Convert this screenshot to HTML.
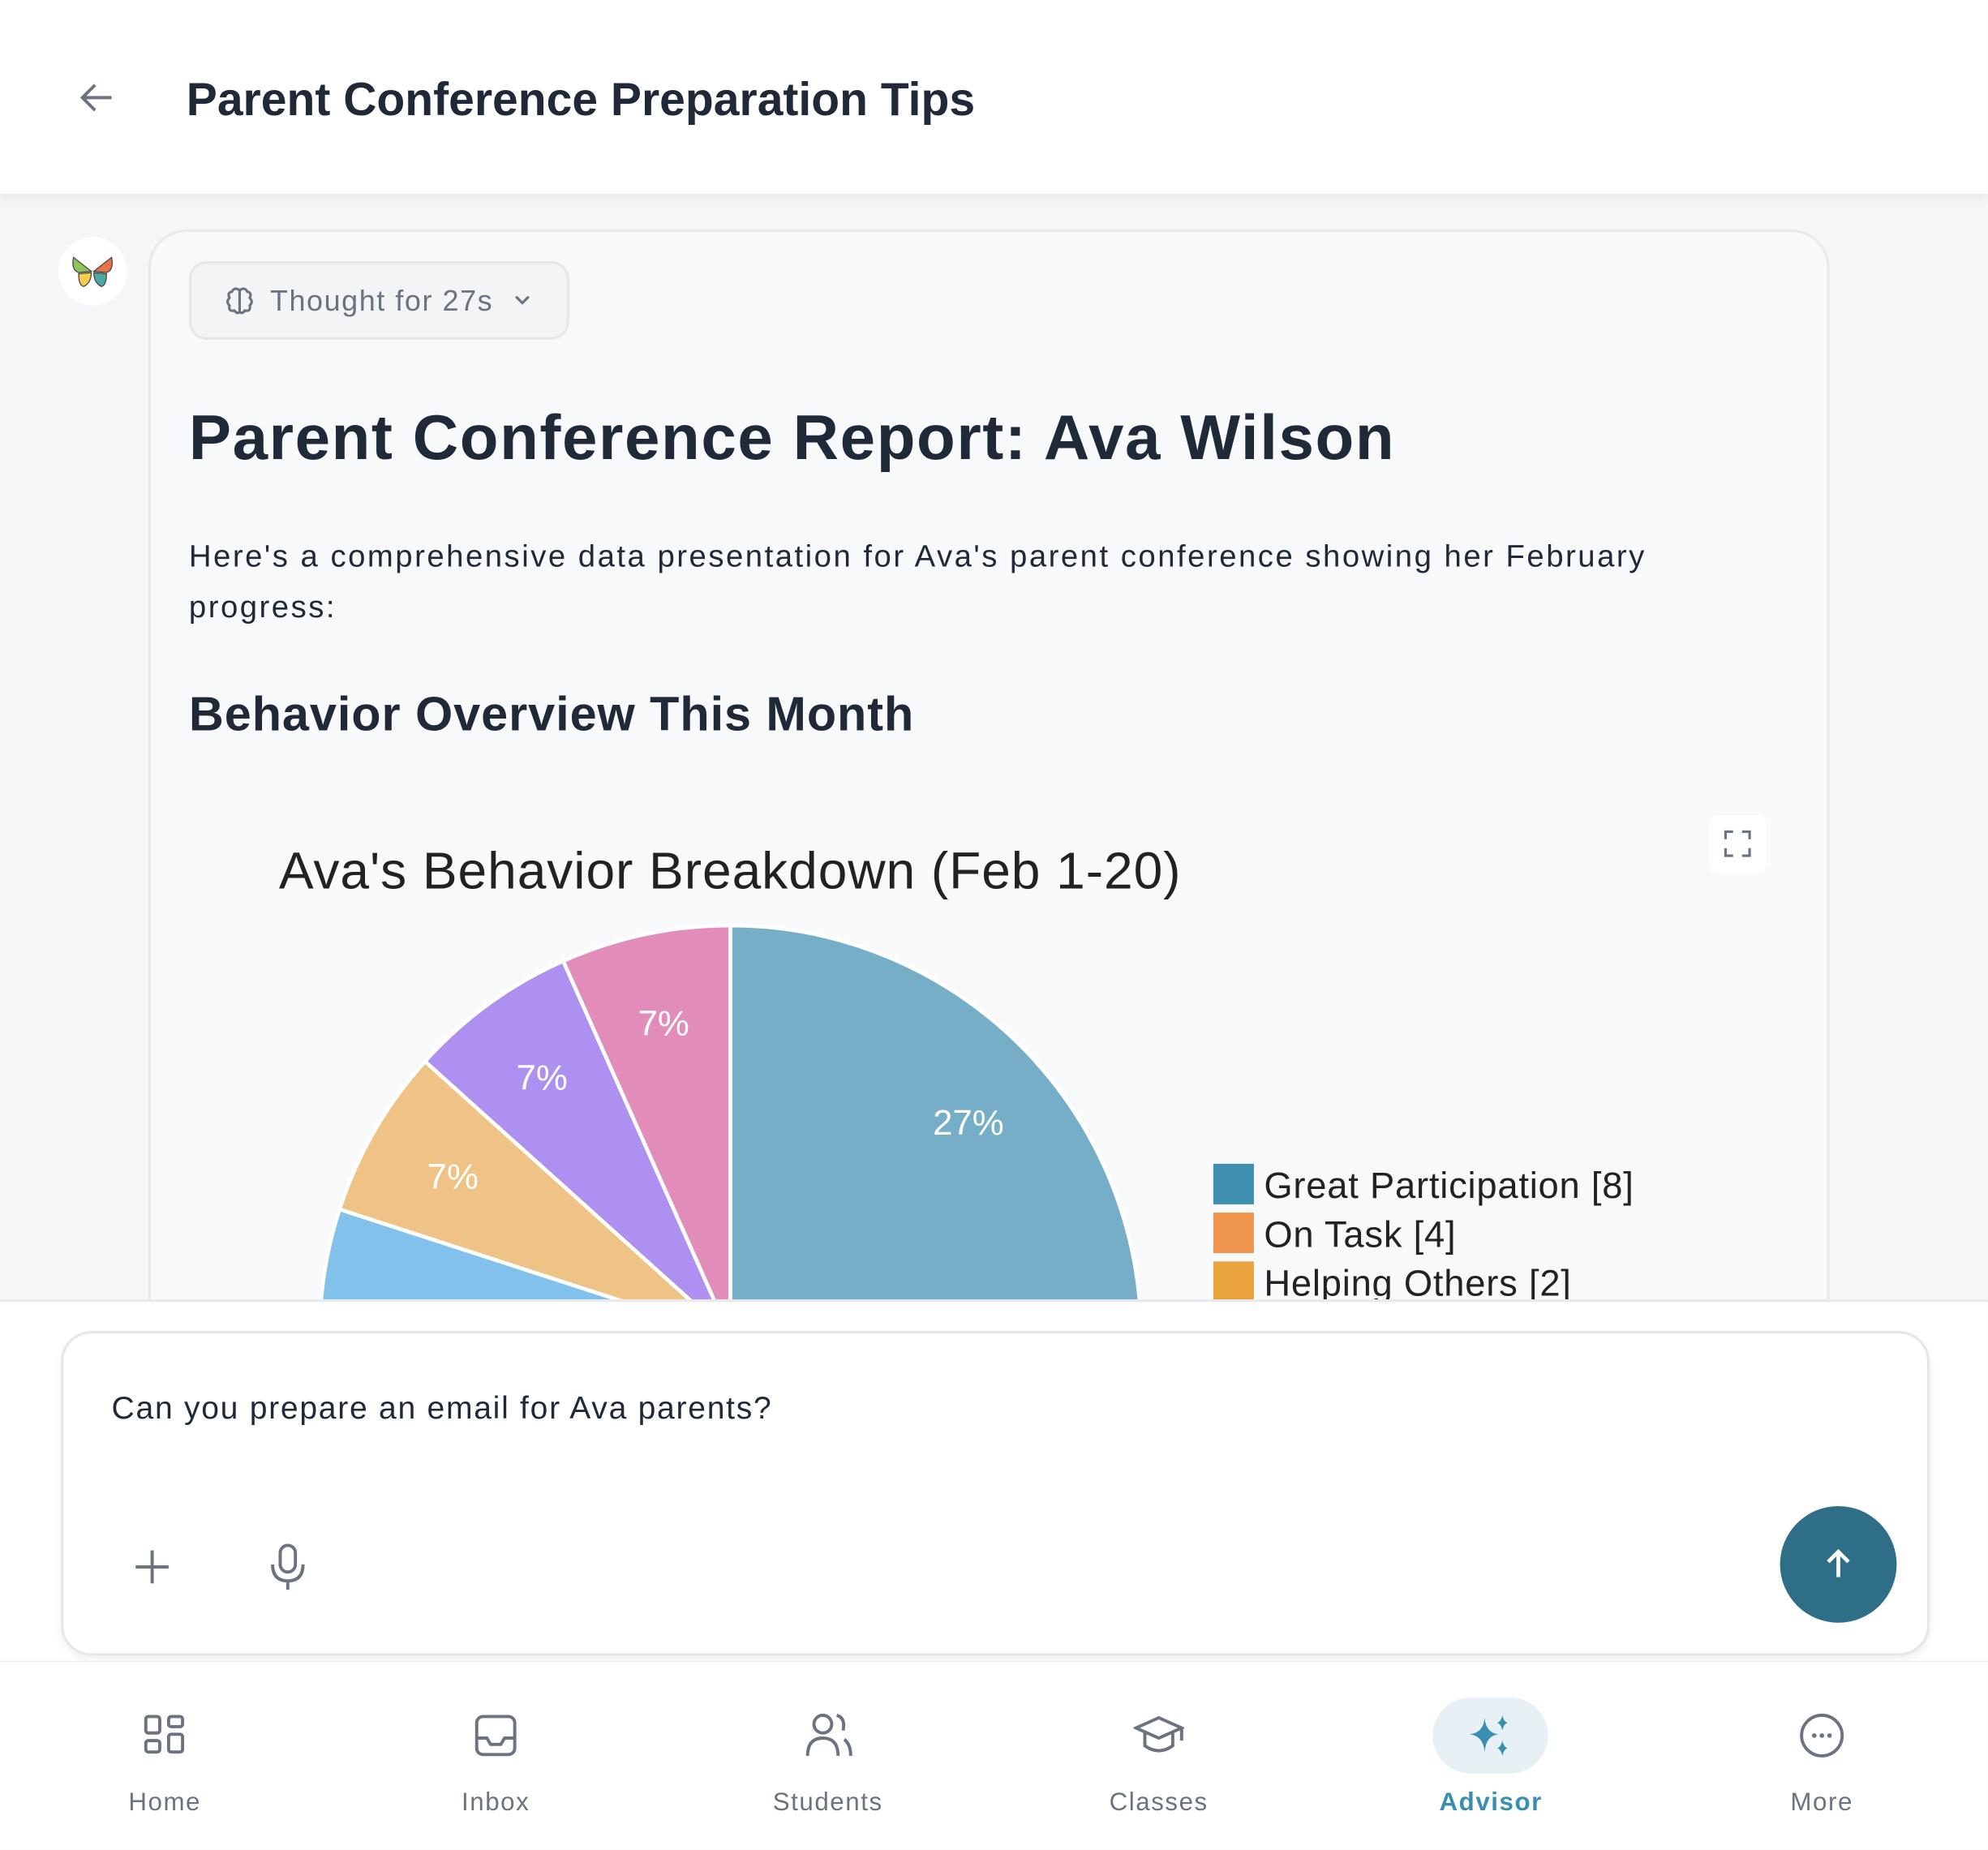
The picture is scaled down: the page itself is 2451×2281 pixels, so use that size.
<!DOCTYPE html>
<html><head><meta charset="utf-8">
<style>
html,body{margin:0;padding:0;width:2451px;height:2280px;overflow:hidden;background:#f5f6f8;}
#root{position:absolute;left:0;top:0;width:1568px;height:1459px;transform:scale(1.5631);transform-origin:0 0;font-family:"Liberation Sans",sans-serif;color:#1f2937;background:#f5f6f8;overflow:hidden;}
.abs{position:absolute;}
.nav{font-size:20px;color:#6b7280;letter-spacing:1px;text-align:center;}
</style></head>
<body>
<div id="root">
  <div class="abs" style="left:117px;top:181px;width:1322px;height:1200px;border:2px solid #e8e9ec;border-radius:30px;background:#f8f9fb;"></div>
  <div class="abs" style="left:46px;top:187px;width:54px;height:54px;border-radius:50%;background:#fff;">
    <svg width="54" height="54" viewBox="0 0 54 54">
      <path d="M26 27 L12 16 Q10 26 16 28 Z" fill="#8fc45a" stroke="#444" stroke-width="0.8"/>
      <path d="M28 27 L42 16 Q44 26 38 28 Z" fill="#e87348" stroke="#444" stroke-width="0.8"/>
      <path d="M26 28 L16 29 Q16 38 20 39 Q26 36 26 28Z" fill="#f5cd4c" stroke="#444" stroke-width="0.8"/>
      <path d="M28 28 L38 29 Q38 38 34 39 Q28 36 28 28Z" fill="#4aa9a3" stroke="#444" stroke-width="0.8"/>
    </svg>
  </div>
  <div class="abs" style="left:149px;top:206px;width:296px;height:58px;border:2px solid #e5e7eb;border-radius:14px;background:#f3f4f6;">
    <svg class="abs" style="left:26px;top:17px" width="24" height="24"><g stroke="#6b7280" stroke-width="2" fill="none"><path d="M12 3V21M12 4Q8 1 6 5Q2 6 4 10Q1 13 4 16Q3 21 8 20Q10 23 12 21M12 4Q16 1 18 5Q22 6 20 10Q23 13 20 16Q21 21 16 20Q14 23 12 21"/></g></svg>
    <span class="abs" style="left:62px;top:16px;font-size:23px;color:#6b7280;letter-spacing:1px;">Thought for 27s</span>
    <svg class="abs" style="left:254px;top:24px" width="14" height="10"><path d="M2 2 L7 7 L12 2" stroke="#6b7280" stroke-width="2" fill="none"/></svg>
  </div>
  <div class="abs" style="left:149px;top:316px;font-size:50px;font-weight:bold;letter-spacing:1px;white-space:nowrap;">Parent Conference Report: Ava Wilson</div>
  <div class="abs" style="left:149px;top:420px;width:1190px;font-size:24.5px;line-height:40px;letter-spacing:1.6px;">Here's a comprehensive data presentation for Ava's parent conference showing her February progress:</div>
  <div class="abs" style="left:149px;top:543px;font-size:38px;font-weight:bold;letter-spacing:0.6px;white-space:nowrap;">Behavior Overview This Month</div>
  <div class="abs" style="left:149px;top:630px;width:1259px;height:700px;border-radius:16px;background:#f8f9fb;"></div>
  <div class="abs" style="left:1348px;top:643px;width:45px;height:45px;border-radius:6px;background:#fff;">
    <svg width="45" height="45"><path d="M13 19V13H19M26 13H32V19M32 26V32H26M19 32H13V26" stroke="#6b7280" stroke-width="2" fill="none"/></svg>
  </div>
  <div class="abs" style="left:220px;top:664px;font-size:41px;color:#222;letter-spacing:0.6px;white-space:nowrap;">Ava's Behavior Breakdown (Feb 1-20)</div>
  <svg class="abs" id="pie" style="left:0;top:0" width="1568" height="1459"></svg>

  <div class="abs" style="left:0;top:0;width:1568px;height:153px;background:#fff;box-shadow:0 2px 8px rgba(0,0,0,0.08);">
    <svg class="abs" style="left:60px;top:62px" width="32" height="30"><path d="M28 15H5M15 5L5 15L15 25" stroke="#6b7280" stroke-width="2.5" fill="none"/></svg>
    <div class="abs" style="left:147px;top:58px;font-size:36.5px;font-weight:bold;white-space:nowrap;">Parent Conference Preparation Tips</div>
  </div>

  <div class="abs" style="left:0;top:1025px;width:1568px;height:290px;background:#fff;border-top:2px solid #e8e9ec;"></div>
  <div class="abs" style="left:48px;top:1050px;width:1470px;height:252px;border:2px solid #e5e7eb;border-radius:24px;background:#fff;box-shadow:0 3px 6px rgba(0,0,0,0.06);">
    <div class="abs" style="left:38px;top:45px;font-size:25px;letter-spacing:1.1px;white-space:nowrap;">Can you prepare an email for Ava parents?</div>
    <svg class="abs" style="left:54px;top:168px" width="32" height="32"><path d="M16 3V29M3 16H29" stroke="#6b7280" stroke-width="2.5"/></svg>
    <svg class="abs" style="left:160px;top:164px" width="34" height="40"><rect x="11" y="3" width="12" height="21" rx="6" stroke="#6b7280" stroke-width="2.5" fill="none"/><path d="M5 18Q5 31 17 31Q29 31 29 18M17 31V38" stroke="#6b7280" stroke-width="2.5" fill="none"/></svg>
    <div class="abs" style="left:1354px;top:136px;width:92px;height:92px;border-radius:50%;background:#2f6e87;">
      <svg width="92" height="92"><path d="M46 56V37M38 44L46 36L54 44" stroke="#fff" stroke-width="3" fill="none"/></svg>
    </div>
  </div>

  <div class="abs" style="left:0;top:1310px;width:1568px;height:149px;background:#fff;border-top:1px solid #eee;">
    <div class="abs" style="left:1130px;top:28px;width:91px;height:60px;border-radius:30px;background:#e6f0f5;"></div>
    <svg class="abs" style="left:112px;top:40px" width="36" height="36"><g stroke="#6b7280" stroke-width="2.5" fill="none"><rect x="3" y="3" width="11" height="13" rx="2"/><rect x="21" y="3" width="11" height="8" rx="2"/><rect x="3" y="22" width="11" height="9" rx="2"/><rect x="21" y="17" width="11" height="14" rx="2"/></g></svg>
    <svg class="abs" style="left:373px;top:40px" width="36" height="36"><g stroke="#6b7280" stroke-width="2.5" fill="none"><rect x="3" y="3" width="30" height="30" rx="5"/><path d="M3 20H11L14 25H22L25 20H33"/></g></svg>
    <svg class="abs" style="left:634px;top:38px" width="40" height="40"><g stroke="#6b7280" stroke-width="2.5" fill="none"><circle cx="15" cy="11" r="7"/><path d="M3 36Q3 22 15 22Q27 22 27 36M26 4Q33 6 31 16M32 23Q37 27 37 36"/></g></svg>
    <svg class="abs" style="left:894px;top:40px" width="40" height="36"><g stroke="#6b7280" stroke-width="2.5" fill="none"><path d="M2 12L20 4L38 12L20 20Z"/><path d="M9 16V26Q20 34 31 26V16M38 12V22"/></g></svg>
    <svg class="abs" style="left:1156px;top:40px" width="40" height="36"><g fill="#3a8fb0"><path d="M15 4Q16 16 26 17Q16 18 15 31Q14 18 3 17Q14 16 15 4Z"/><path d="M29 2Q30 7 33 8Q30 9 29 14Q28 9 25 8Q28 7 29 2Z"/><path d="M29 22Q30 27 33 28Q30 29 29 34Q28 29 25 28Q28 27 29 22Z"/></g></svg>
    <svg class="abs" style="left:1418px;top:39px" width="38" height="38"><circle cx="19" cy="19" r="16" stroke="#6b7280" stroke-width="2.5" fill="none"/><g fill="#6b7280"><circle cx="13" cy="19" r="1.8"/><circle cx="19" cy="19" r="1.8"/><circle cx="25" cy="19" r="1.8"/></g></svg>
    <div class="abs nav" style="left:70px;top:100px;width:120px;">Home</div>
    <div class="abs nav" style="left:331px;top:100px;width:120px;">Inbox</div>
    <div class="abs nav" style="left:583px;top:100px;width:140px;">Students</div>
    <div class="abs nav" style="left:844px;top:100px;width:140px;">Classes</div>
    <div class="abs nav" style="left:1106px;top:100px;width:140px;color:#3a8fb0;font-weight:bold;">Advisor</div>
    <div class="abs nav" style="left:1377px;top:100px;width:120px;">More</div>
  </div>
</div>
<script>
const categories = ["Great Participation","On Task","Helping Others","Off Task","Kind Words","Positive Attitude","Asking Questions","Teamwork"];
const values = [8,4,2,4,6,2,2,2];
const colors = ["#3f8fb0","#f0954d","#e8a33d","#9aa5b1","#4ea9e6","#e9ad52","#8d64eb","#d9609d"];
const NS="http://www.w3.org/2000/svg";
const svg=document.getElementById('pie');
const cx=576, cy=1054, r=324;
const total=values.reduce((a,b)=>a+b,0);
function pt(a,rad){return [cx+rad*Math.sin(a), cy-rad*Math.cos(a)];}
let a0=0;
values.forEach((v,i)=>{
  const a1=a0+v/total*2*Math.PI;
  const p0=pt(a0,r), p1=pt(a1,r);
  const large=(a1-a0)>Math.PI?1:0;
  const path=document.createElementNS(NS,'path');
  path.setAttribute('d',`M${cx},${cy}L${p0[0]},${p0[1]}A${r},${r} 0 ${large} 1 ${p1[0]},${p1[1]}Z`);
  path.setAttribute('fill',colors[i]);
  path.setAttribute('fill-opacity','0.7');
  path.setAttribute('stroke','#fff');
  path.setAttribute('stroke-width','3');
  
  
  svg.appendChild(path);
  const m=(a0+a1)/2, lp=pt(m,r*0.78);
  const t=document.createElementNS(NS,'text');
  t.setAttribute('x',lp[0]);t.setAttribute('y',lp[1]+10);
  t.setAttribute('text-anchor','middle');t.setAttribute('fill','#fff');
  t.setAttribute('font-size','28');t.setAttribute('font-family','Liberation Sans, sans-serif');
  t.textContent=Math.round(v/total*100)+'%';
  
  
  svg.appendChild(t);
  a0=a1;
});
categories.forEach((c,i)=>{
  const y=918+i*38.5;
  const rc=document.createElementNS(NS,'rect');
  rc.setAttribute('x',957);rc.setAttribute('y',y);rc.setAttribute('width',32);rc.setAttribute('height',32);
  rc.setAttribute('fill',colors[i]);
  
  
  svg.appendChild(rc);
  const t=document.createElementNS(NS,'text');
  t.setAttribute('x',997);t.setAttribute('y',y+27);
  t.setAttribute('font-size','29');t.setAttribute('fill','#222');t.setAttribute('font-family','Liberation Sans, sans-serif');
  t.setAttribute('letter-spacing','0.5');
  t.textContent=c+' ['+values[i]+']';
  
  
  svg.appendChild(t);
});
</script>
</body></html>
